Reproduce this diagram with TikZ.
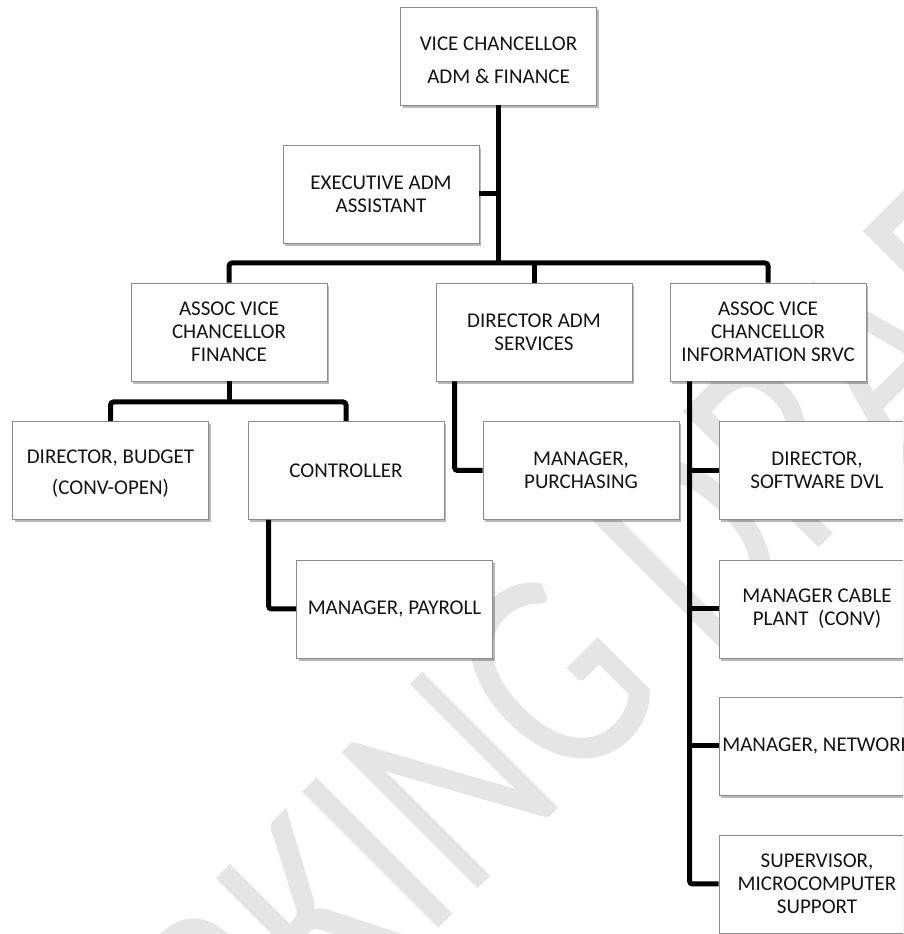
\documentclass[tikz,border=0pt]{standalone}
\usepackage{fontspec}
\setmainfont{Carlito}
\usetikzlibrary{shadows,calc}
\definecolor{wm}{RGB}{229,229,229}
\definecolor{boxline}{RGB}{140,140,140}
\definecolor{ink}{RGB}{20,20,20}
\tikzset{
  post/.style={draw=boxline, line width=0.9pt, fill=white,
    minimum width=196pt, minimum height=98pt, inner sep=0pt,
    align=center, text=ink, font=\fontsize{21}{23}\selectfont,
    drop shadow={shadow xshift=2pt, shadow yshift=-3pt, opacity=0.28, fill=black}},
  conn/.style={line width=5pt, draw=black, rounded corners=3pt},
  watermark/.style={text=wm, font=\fontsize{300}{300}\selectfont,
    rotate=45, xscale=0.76, anchor=base, inner sep=0pt},
}
\begin{document}
\begin{tikzpicture}[x=1pt, y=1pt]
\useasboundingbox (0,0) rectangle (903,934);
\clip (0,0) rectangle (903,934);

% background watermark
\node[watermark] (wmtext) at (573.6,140.6) {WORKING DRAFT};

% top level
\node[post, font=\fontsize{21}{33}\selectfont] (vc) at (498.5,878) {\rule{0pt}{22pt}VICE CHANCELLOR\\ADM \& FINANCE};
\node[post] (exec) at (381,740) {EXECUTIVE ADM\\ASSISTANT};

% second level
\node[post] (fin)  at (229,602) {ASSOC VICE\\CHANCELLOR\\FINANCE};
\node[post] (adm)  at (534,602) {DIRECTOR ADM\\SERVICES};
\node[post] (info) at (768,602) {ASSOC VICE\\CHANCELLOR\\INFORMATION SRVC};

% third level
\node[post, font=\fontsize{21}{31}\selectfont] (budget) at (110.5,463.5) {\rule{0pt}{20pt}DIRECTOR, BUDGET\\(CONV-OPEN)};
\node[post] (ctrl)  at (346,463.5) {CONTROLLER};
\node[post] (pay)   at (394.5,325) {MANAGER, PAYROLL};
\node[post] (purch) at (581,463.5) {MANAGER,\\PURCHASING};
\node[post] (soft)  at (817,463.5) {DIRECTOR,\\SOFTWARE DVL};
\node[post] (cable) at (817,325) {MANAGER CABLE\\PLANT\ \ (CONV)};
\node[post] (net)   at (817,188) {MANAGER, NETWORK};
\node[post] (sup)   at (817,50) {SUPERVISOR,\\MICROCOMPUTER\\SUPPORT};

% junction points of the reporting lines
\coordinate (bus)    at (vc.south |- 0,671);
\coordinate (finbus) at (fin.south |- 0,532);
\coordinate (ctrlout) at ([xshift=21pt]ctrl.south west);
\coordinate (admout)  at ([xshift=19pt]adm.south west);
\coordinate (infoout) at ([xshift=20pt]info.south west);

% reporting lines
\draw[conn] (vc.south) -- (bus);
\draw[conn] (exec.east) -- (exec.east -| vc.south);
\draw[conn] (fin.north) |- (bus) -| (info.north);
\draw[conn] (adm.north) -- (adm.north |- bus);
\draw[conn] (fin.south) -- (finbus);
\draw[conn] (budget.north) |- (finbus) -| (ctrl.north);
\draw[conn] (ctrlout) |- (pay.west);
\draw[conn] (admout) |- (purch.west);
\draw[conn] (infoout) |- (sup.west);
\draw[conn] (infoout |- soft.west) -- (soft.west);
\draw[conn] (infoout |- cable.west) -- (cable.west);
\draw[conn] (infoout |- net.west) -- (net.west);
\end{tikzpicture}
\end{document}
